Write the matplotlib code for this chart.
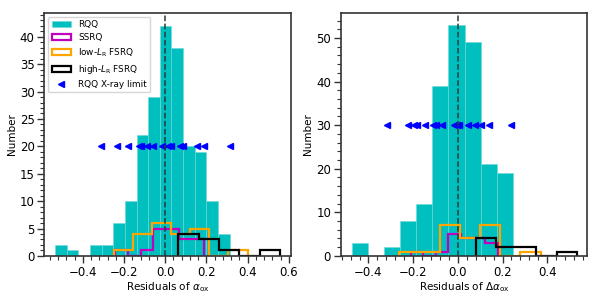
import numpy as np
import matplotlib
matplotlib.use('Agg')
import matplotlib.pyplot as plt
from matplotlib.ticker import AutoMinorLocator, MultipleLocator

# ---------------------------------------------------------------
# data (bin edges + counts)
# ---------------------------------------------------------------

# left panel: residuals of alpha_ox
rqq_edges_l = [-0.535, -0.478, -0.422, -0.365, -0.309, -0.252, -0.196, -0.139,
               -0.083, -0.026, 0.030, 0.087, 0.143, 0.200, 0.256, 0.313]
rqq_counts_l = [2, 1, 0, 2, 2, 6, 10, 22, 29, 42, 38, 20, 19, 10, 4]
ssrq_edges_l = [-0.243, -0.181, -0.119, -0.057, 0.005, 0.067, 0.129, 0.190]
ssrq_counts_l = [1, 0, 1, 5, 5, 3, 3]
lowfs_edges_l = [-0.251, -0.158, -0.065, 0.028, 0.121, 0.214, 0.307, 0.400]
lowfs_counts_l = [1, 4, 6, 4, 5, 0, 1]
highfs_edges_l = [0.063, 0.162, 0.261, 0.360, 0.458, 0.557]
highfs_counts_l = [4, 3, 1, 0, 1]
limits_l = [-0.311, -0.232, -0.182, -0.126, -0.116, -0.087, -0.059, -0.018,
            0.014, 0.030, 0.071, 0.088, 0.156, 0.190, 0.313]
limit_level_l = 20

# right panel: residuals of Delta alpha_ox
rqq_edges_r = [-0.475, -0.403, -0.331, -0.259, -0.187, -0.114, -0.042, 0.030,
               0.102, 0.174, 0.246]
rqq_counts_r = [3, 0, 2, 8, 12, 39, 53, 49, 21, 19]
ssrq_edges_r = [-0.210, -0.154, -0.099, -0.043, 0.012, 0.068, 0.123, 0.179]
ssrq_counts_r = [1, 0, 1, 5, 4, 4, 3]
lowfs_edges_r = [-0.263, -0.172, -0.082, 0.009, 0.099, 0.190, 0.280, 0.371]
lowfs_counts_r = [1, 1, 7, 4, 7, 0, 1]
highfs_edges_r = [0.082, 0.172, 0.262, 0.352, 0.442, 0.532]
highfs_counts_r = [4, 2, 2, 0, 1]
limits_r = [-0.317, -0.225, -0.197, -0.181, -0.149, -0.109, -0.100, -0.071,
            -0.017, -0.005, 0.005, 0.047, 0.075, 0.103, 0.138, 0.237]
limit_level_r = 30

# ---------------------------------------------------------------
# plotting
# ---------------------------------------------------------------
plt.rcParams['font.family'] = 'DejaVu Sans'
plt.rcParams['axes.edgecolor'] = '#333333'
plt.rcParams['axes.linewidth'] = 1.2

fig = plt.figure(figsize=(6, 3), dpi=100)
ax1 = fig.add_axes([0.074, 0.147, 0.411, 0.809])
ax2 = fig.add_axes([0.568, 0.147, 0.411, 0.809])


def draw_panel(ax, rqq, ssrq, lowfs, highfs, limits, level, xlabel):
    for (edges, counts), kw in zip(
            [rqq, ssrq, lowfs, highfs],
            [dict(histtype='bar', color='c', ec='#6fd8d8', lw=0.4, label='RQQ'),
             dict(histtype='step', color='m', lw=1.6, label='SSRQ'),
             dict(histtype='step', color='orange', lw=1.6,
                  label=r'low-$L_{\rm R}$ FSRQ'),
             dict(histtype='step', color='k', lw=1.6,
                  label=r'high-$L_{\rm R}$ FSRQ')]):
        e = np.array(edges)
        ax.hist(0.5 * (e[:-1] + e[1:]), bins=e, weights=counts, **kw)
    ax.plot(limits, [level] * len(limits), ls='none', marker='<', ms=3.7,
            color='b', label='RQQ X-ray limit')
    ax.axvline(0, color='#263b3b', ls='--', lw=1.1)
    ax.set_xlabel(xlabel, fontsize=7.5, labelpad=1)
    ax.set_ylabel('Number', fontsize=7.5, labelpad=2)
    ax.xaxis.set_major_locator(MultipleLocator(0.2))
    ax.xaxis.set_minor_locator(AutoMinorLocator(5))
    ax.yaxis.set_minor_locator(AutoMinorLocator(5))
    ax.tick_params(which='major', length=5, width=1, labelsize=8.5, pad=2,
                   color='#333333')
    ax.tick_params(which='minor', length=3, width=0.8, color='#333333')
    ax.set_ylim(bottom=0)


draw_panel(ax1, (rqq_edges_l, rqq_counts_l), (ssrq_edges_l, ssrq_counts_l),
           (lowfs_edges_l, lowfs_counts_l), (highfs_edges_l, highfs_counts_l),
           limits_l, limit_level_l, r'Residuals of $\alpha_{\rm ox}$')
draw_panel(ax2, (rqq_edges_r, rqq_counts_r), (ssrq_edges_r, ssrq_counts_r),
           (lowfs_edges_r, lowfs_counts_r), (highfs_edges_r, highfs_counts_r),
           limits_r, limit_level_r, r'Residuals of $\Delta\alpha_{\rm ox}$')

ax1.set_ylim(0, 44.3)
ax1.set_yticks([0, 5, 10, 15, 20, 25, 30, 35, 40])
ax2.set_ylim(0, 55.7)
ax1.set_xlim(-0.587, 0.611)
ax2.set_xlim(-0.524, 0.580)

ax1.legend(loc='upper left', fontsize=6.4, numpoints=1, borderaxespad=0.4,
           handlelength=2.2, labelspacing=0.45)

fig.savefig('out.png', dpi=100)
